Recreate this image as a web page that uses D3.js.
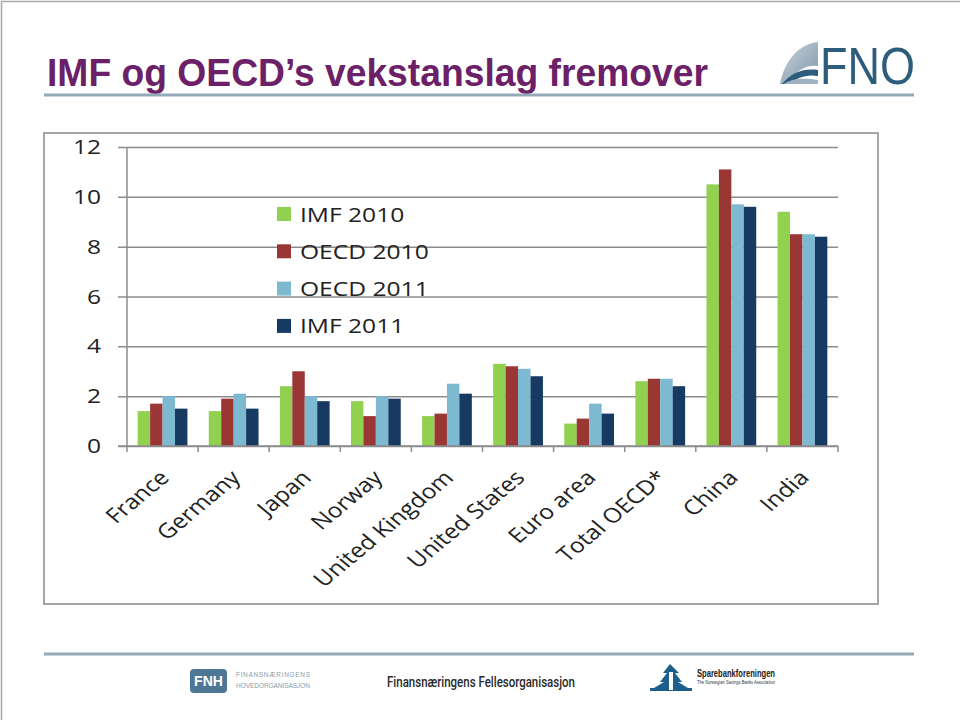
<!DOCTYPE html>
<html>
<head>
<meta charset="utf-8">
<script src="https://cdn.jsdelivr.net/npm/d3@7"></script>
<style>
  body { margin: 0; background: #fff; }
  svg { display: block; }
</style>
</head>
<body>
<div id="slide"></div>
<script>
// data
const categories = ["France", "Germany", "Japan", "Norway", "United Kingdom",
  "United States", "Euro area", "Total OECD*", "China", "India"];
const seriesNames = ["IMF 2010", "OECD 2010", "OECD 2011", "IMF 2011"];
const imf2010  = [1.4, 1.4, 2.4, 1.8, 1.2, 3.3, 0.9, 2.6, 10.5, 9.4];
const oecd2010 = [1.7, 1.9, 3.0, 1.2, 1.3, 3.2, 1.1, 2.7, 11.1, 8.5];
const oecd2011 = [2.0, 2.1, 2.0, 2.0, 2.5, 3.1, 1.7, 2.7, 9.7, 8.5];
const imf2011  = [1.5, 1.5, 1.8, 1.9, 2.1, 2.8, 1.3, 2.4, 9.6, 8.4];
const yTicks = [0, 2, 4, 6, 8, 10, 12];

const seriesValues = [imf2010, oecd2010, oecd2011, imf2011];
const colors = ["#92d050", "#9a3735", "#7db9d1", "#173a63"];

const W = 960, H = 720;
const svg = d3.select("#slide").append("svg")
    .attr("width", W)
    .attr("height", H);

// slide edge
svg.append("path")
    .attr("d", `M1.5,${H} L1.5,1.5 L${W},1.5`)
    .attr("fill", "none")
    .attr("stroke", "#a8a8a8")
    .attr("stroke-width", 1.5);

// title
svg.append("text")
    .attr("x", 47)
    .attr("y", 86)
    .attr("textLength", 661)
    .attr("lengthAdjust", "spacingAndGlyphs")
    .style("font-family", "'Liberation Sans', Arial, sans-serif")
    .style("font-weight", "bold")
    .style("font-size", "38.5px")
    .attr("fill", "#6b2068")
    .text("IMF og OECD\u2019s vekstanslag fremover");

// header and footer rules
[95, 654].forEach(y => {
  svg.append("line")
      .attr("x1", 44).attr("x2", 914)
      .attr("y1", y).attr("y2", y)
      .attr("stroke", "#94aab9")
      .attr("stroke-width", 3);
});

// FNO logo
const logo = svg.append("g").attr("transform", "translate(778,40)");
const grad = svg.append("defs").append("linearGradient")
    .attr("id", "dome").attr("x1", 0).attr("y1", 0).attr("x2", 1).attr("y2", 1);
grad.append("stop").attr("offset", "0%").attr("stop-color", "#c9d4dc");
grad.append("stop").attr("offset", "100%").attr("stop-color", "#7f97a8");
logo.append("path")
    .attr("d", "M2,44 C6,22 20,4 40,2 L40,26 C28,24 16,32 10,44 Z")
    .attr("fill", "url(#dome)");
logo.append("path")
    .attr("d", "M4,44 C14,32 26,28 40,30 L40,36 C28,34 18,38 12,44 Z")
    .attr("fill", "#2d5d7b");
logo.append("path")
    .attr("d", "M6,44 C14,38 26,38 40,40 L40,44 Z")
    .attr("fill", "#9fb2c0");
svg.append("text")
    .attr("x", 820)
    .attr("y", 84)
    .attr("textLength", 95)
    .attr("lengthAdjust", "spacingAndGlyphs")
    .style("font-family", "'Liberation Sans Narrow', 'Liberation Sans', sans-serif")
    .style("font-size", "52px")
    .attr("fill", "#2d5d7b")
    .text("FNO");

// chart frame
svg.append("rect")
    .attr("x", 44).attr("y", 133)
    .attr("width", 834).attr("height", 471)
    .attr("fill", "#fff")
    .attr("stroke", "#a6a6a6")
    .attr("stroke-width", 2);

const plot = { left: 127, right: 838, top: 147, bottom: 446 };
const stretch = 1.2; // slide text is drawn wide

const x0 = d3.scaleBand()
    .domain(categories)
    .range([plot.left, plot.right])
    .paddingInner(0.3)
    .paddingOuter(0.15);
const x1 = d3.scaleBand()
    .domain(seriesNames)
    .range([0, x0.bandwidth()]);
const y = d3.scaleLinear()
    .domain([0, 12])
    .range([plot.bottom, plot.top]);

const chart = svg.append("g");

// gridlines (they run 9px past the y axis as tick marks)
chart.append("g")
    .attr("transform", `translate(${plot.right},0)`)
    .call(g => {
      g.call(d3.axisLeft(y).tickValues(yTicks).tickSize(plot.right - plot.left + 9).tickFormat(""));
      g.select(".domain").remove();
      g.selectAll(".tick line").attr("stroke", "#8c8c8c").attr("stroke-width", 1.5);
    });
chart.append("line")
    .attr("x1", plot.left).attr("x2", plot.left)
    .attr("y1", plot.top).attr("y2", plot.bottom)
    .attr("stroke", "#8c8c8c").attr("stroke-width", 1.5);

chart.selectAll(".ylab")
    .data(yTicks)
    .enter().append("text")
    .attr("class", "ylab")
    .attr("transform", d => `translate(101,${y(d) + 7}) scale(${stretch},1)`)
    .attr("text-anchor", "end")
    .style("font-family", "'Open Sans', sans-serif")
    .style("font-size", "20.5px")
    .attr("fill", "#222")
    .text(d => d);

// bars
const groups = chart.selectAll(".grp")
    .data(categories)
    .enter().append("g")
    .attr("class", "grp")
    .attr("transform", d => `translate(${x0(d)},0)`);

groups.selectAll("rect")
    .data((d, i) => seriesNames.map((s, j) => ({ s: s, v: seriesValues[j][i], c: colors[j] })))
    .enter().append("rect")
    .attr("x", d => x1(d.s))
    .attr("y", d => y(d.v))
    .attr("width", x1.bandwidth())
    .attr("height", d => y(0) - y(d.v))
    .attr("fill", d => d.c);

// x axis with category boundary ticks
const bounds = d3.range(categories.length + 1).map(i => plot.left + i * x0.step());
chart.append("line")
    .attr("x1", plot.left - 9).attr("x2", plot.right)
    .attr("y1", plot.bottom).attr("y2", plot.bottom)
    .attr("stroke", "#8c8c8c").attr("stroke-width", 1.5);
chart.selectAll(".xtick")
    .data(bounds)
    .enter().append("line")
    .attr("class", "xtick")
    .attr("x1", d => d).attr("x2", d => d)
    .attr("y1", plot.bottom).attr("y2", plot.bottom + 6)
    .attr("stroke", "#8c8c8c").attr("stroke-width", 1.5);

chart.selectAll(".xlab")
    .data(categories)
    .enter().append("text")
    .attr("class", "xlab")
    .attr("transform", d => `translate(${x0(d) + x0.bandwidth() / 2 + 8},${plot.bottom + 33}) scale(${stretch},1) rotate(-45)`)
    .attr("text-anchor", "end")
    .style("font-family", "'Open Sans', sans-serif")
    .style("font-size", "20.5px")
    .attr("fill", "#222")
    .text(d => d);

// legend
const legend = chart.selectAll(".leg")
    .data(seriesNames)
    .enter().append("g")
    .attr("class", "leg")
    .attr("transform", (d, i) => `translate(277,${207 + i * 37.3})`);
legend.append("rect")
    .attr("width", 14).attr("height", 14)
    .attr("fill", (d, i) => colors[i]);
legend.append("text")
    .attr("transform", `translate(23,14.5) scale(${stretch},1)`)
    .style("font-family", "'Open Sans', sans-serif")
    .style("font-size", "20.5px")
    .attr("fill", "#222")
    .text(d => d);

// footer
const fnh = svg.append("g").attr("transform", "translate(190,669)");
fnh.append("rect")
    .attr("width", 37).attr("height", 24).attr("rx", 4)
    .attr("fill", "#4d7795");
fnh.append("text")
    .attr("x", 18.5).attr("y", 17)
    .attr("text-anchor", "middle")
    .style("font-family", "'Liberation Sans', sans-serif")
    .style("font-weight", "bold")
    .style("font-size", "14px")
    .attr("fill", "#fff")
    .text("FNH");
[["FINANSNÆRINGENS", 8], ["HOVEDORGANISASJON", 19]].forEach(t => {
  fnh.append("text")
      .attr("x", 46).attr("y", t[1])
      .attr("textLength", 74)
      .attr("lengthAdjust", "spacing")
      .style("font-family", "'Liberation Sans', sans-serif")
      .style("font-size", "6.5px")
      .attr("fill", "#8a9ba8")
      .text(t[0]);
});

svg.append("text")
    .attr("x", 387).attr("y", 687)
    .attr("textLength", 188)
    .attr("lengthAdjust", "spacingAndGlyphs")
    .style("font-family", "Roboto, 'Liberation Sans', sans-serif")
    .style("font-weight", "500")
    .style("font-size", "15px")
    .attr("fill", "#2a2a2a")
    .text("Finansnæringens Fellesorganisasjon");

const spb = svg.append("g").attr("transform", "translate(650,664)");
spb.append("path")
    .attr("d", "M20,0 L13,9 L17,9 L10,18 L14,18 L4,24 L0,24 L0,27 L42,27 L42,24 L38,24 L28,18 L32,18 L25,9 L29,9 Z")
    .attr("fill", "#1d5e8c");
spb.append("path")
    .attr("d", "M19,8 L23,8 L23,26 L19,26 Z")
    .attr("fill", "#fff");
spb.append("text")
    .attr("x", 47).attr("y", 13)
    .attr("textLength", 78)
    .attr("lengthAdjust", "spacingAndGlyphs")
    .style("font-family", "'Liberation Sans Narrow', 'Liberation Sans', sans-serif")
    .style("font-weight", "bold")
    .style("font-size", "11px")
    .attr("fill", "#222")
    .text("Sparebankforeningen");
spb.append("text")
    .attr("x", 47).attr("y", 20)
    .attr("textLength", 78)
    .attr("lengthAdjust", "spacingAndGlyphs")
    .style("font-family", "'Liberation Sans', sans-serif")
    .style("font-size", "4.5px")
    .attr("fill", "#333")
    .text("The Norwegian Savings Banks Association");
</script>
</body>
</html>
